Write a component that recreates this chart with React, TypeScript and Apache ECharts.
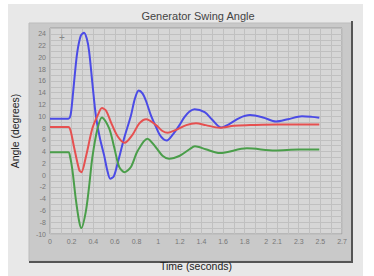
import React, { useEffect, useRef } from "react";
import * as echarts from "echarts";

const title = "Generator Swing Angle";
const xName = "Time (seconds)";
const yName = "Angle (degrees)";

const xTickValues = [0, 0.2, 0.4, 0.6, 0.8, 1, 1.2, 1.4, 1.6, 1.8, 2, 2.1, 2.3, 2.5, 2.7];
const xTickLabels = ["0", "0.2", "0.4", "0.6", "0.8", "1", "1.2", "1.4", "1.6", "1.8", "2", "2.1", "2.3", "2.5", "2.7"];

const blueT = [0, 0.17, 0.19, 0.207, 0.23, 0.253, 0.285, 0.315, 0.34, 0.362, 0.392, 0.424, 0.46, 0.5, 0.53, 0.557, 0.59, 0.625, 0.686, 0.748, 0.785, 0.82, 0.855, 0.888, 0.934, 0.97, 1.01, 1.05, 1.08, 1.135, 1.197, 1.243, 1.29, 1.336, 1.43, 1.5, 1.58, 1.65, 1.75, 1.85, 1.97, 2.09, 2.2, 2.33, 2.42, 2.49];
const blueV = [9.6, 9.6, 10.2, 12.8, 17.2, 21, 23.7, 24.2, 23.2, 21, 15.6, 10.1, 6.4, 3.4, 0.8, -0.6, -0.2, 2, 6.3, 10.1, 13.0, 14.4, 13.9, 12.6, 10.1, 8.6, 7.0, 6.1, 5.9, 6.9, 8.5, 9.85, 10.8, 11.2, 10.7, 9.4, 8.1, 8.6, 9.7, 10.2, 9.8, 9.1, 9.5, 10.0, 9.9, 9.75];

const redT = [0, 0.17, 0.19, 0.223, 0.27, 0.29, 0.331, 0.392, 0.44, 0.48, 0.52, 0.563, 0.625, 0.69, 0.764, 0.826, 0.89, 0.98, 1.04, 1.09, 1.166, 1.26, 1.35, 1.44, 1.57, 1.7, 1.85, 2.1, 2.3, 2.49];
const redV = [8.2, 8.2, 7.6, 4.7, 0.9, 0.5, 3.05, 7.95, 10.1, 11.4, 10.9, 9.0, 6.6, 5.5, 6.9, 8.8, 9.5, 8.5, 7.5, 7.2, 7.7, 8.5, 8.8, 8.5, 8.05, 8.4, 8.5, 8.6, 8.6, 8.6];

const greenT = [0, 0.17, 0.185, 0.207, 0.238, 0.269, 0.29, 0.331, 0.362, 0.392, 0.44, 0.48, 0.547, 0.594, 0.64, 0.69, 0.748, 0.81, 0.9, 0.98, 1.04, 1.1, 1.2, 1.29, 1.34, 1.44, 1.57, 1.82, 2.08, 2.3, 2.49];
const greenV = [3.9, 3.9, 3.2, 0.9, -4, -7.8, -9.0, -6.2, -1.85, 3.05, 7.95, 9.8, 7.95, 4.7, 1.4, 0.5, 1.4, 4.1, 6.2, 4.7, 3.3, 2.8, 3.3, 4.4, 4.9, 4.4, 3.75, 4.55, 4.2, 4.35, 4.35];

const zip = (t: number[], v: number[]) => t.map((x, i) => [x, v[i]]);

const FONT = "Liberation Sans, Arial, sans-serif";

export default function App() {
  const ref = useRef<HTMLDivElement>(null);
  useEffect(() => {
    document.body.style.margin = "0";
    const chart = echarts.init(ref.current!, null, { renderer: "svg" });
    const labelMap: Record<number, string> = {};
    xTickValues.forEach((v, i) => (labelMap[Math.round(v * 10)] = xTickLabels[i]));
    const line = (data: number[][], color: string) => ({
      type: "line",
      data,
      smooth: 0.3,
      showSymbol: false,
      symbol: "none",
      lineStyle: { color, width: 2 },
    });
    chart.setOption({
      animation: false,
      backgroundColor: "#ffffff",
      graphic: [
        { type: "rect", shape: { x: 8, y: 4, width: 355, height: 272 }, style: { fill: "#e8e8e8" }, z: -10 },
        { type: "rect", shape: { x: 29, y: 23, width: 323, height: 238 }, style: { fill: "#c9c9c9", stroke: "#bdbdbd", lineWidth: 1 }, z: -9 },
        { type: "line", shape: { x1: 352, y1: 21, x2: 352, y2: 262 }, style: { stroke: "#555", lineWidth: 2 }, z: -8 },
        { type: "line", shape: { x1: 29, y1: 262, x2: 353, y2: 262 }, style: { stroke: "#555", lineWidth: 2 }, z: -8 },
        { type: "text", x: 62, y: 37, style: { text: "+", fill: "#888", fontSize: 10, align: "center", verticalAlign: "middle" }, z: 10 },
      ],
      title: {
        text: title,
        left: 193,
        top: 5,
        textAlign: "center",
        textStyle: { fontSize: 11, fontWeight: "normal", color: "#444", fontFamily: FONT },
      },
      grid: { left: 50, right: 32, top: 28, bottom: 33, show: true, backgroundColor: "#d6d6d6", borderColor: "#9a9a9a", borderWidth: 1 },
      xAxis: {
        type: "value",
        min: 0,
        max: 2.7,
        interval: 0.1,
        name: xName,
        nameLocation: "middle",
        nameGap: 26,
        nameTextStyle: { fontSize: 10.5, color: "#222", fontFamily: FONT },
        axisLine: { show: false },
        axisTick: { show: false },
        axisLabel: {
          fontSize: 7,
          color: "#777",
          margin: 4,
          showMinLabel: true,
          showMaxLabel: true,
          formatter: (v: number) => labelMap[Math.round(v * 10)] ?? "",
          fontFamily: FONT,
        },
        splitLine: { show: true, lineStyle: { color: "#c0c0c0", width: 1 } },
      },
      yAxis: {
        type: "value",
        min: -10,
        max: 25,
        interval: 1,
        name: yName,
        nameLocation: "middle",
        nameGap: 30,
        nameTextStyle: { fontSize: 10.5, color: "#222", fontFamily: FONT },
        axisLine: { show: false },
        axisTick: { show: false },
        axisLabel: {
          fontSize: 7,
          color: "#777",
          margin: 4,
          formatter: (v: number) => (Math.round(v) % 2 === 0 ? String(Math.round(v)) : ""),
          fontFamily: FONT,
        },
        splitLine: { show: true, lineStyle: { color: "#c0c0c0", width: 1 } },
      },
      series: [
        line(zip(blueT, blueV), "#4b4be6"),
        line(zip(redT, redV), "#e65050"),
        line(zip(greenT, greenV), "#4a9e4a"),
      ],
    });
    return () => chart.dispose();
  }, []);
  return <div ref={ref} style={{ position: "absolute", left: 0, top: 0, width: 374, height: 276 }} />;
}
